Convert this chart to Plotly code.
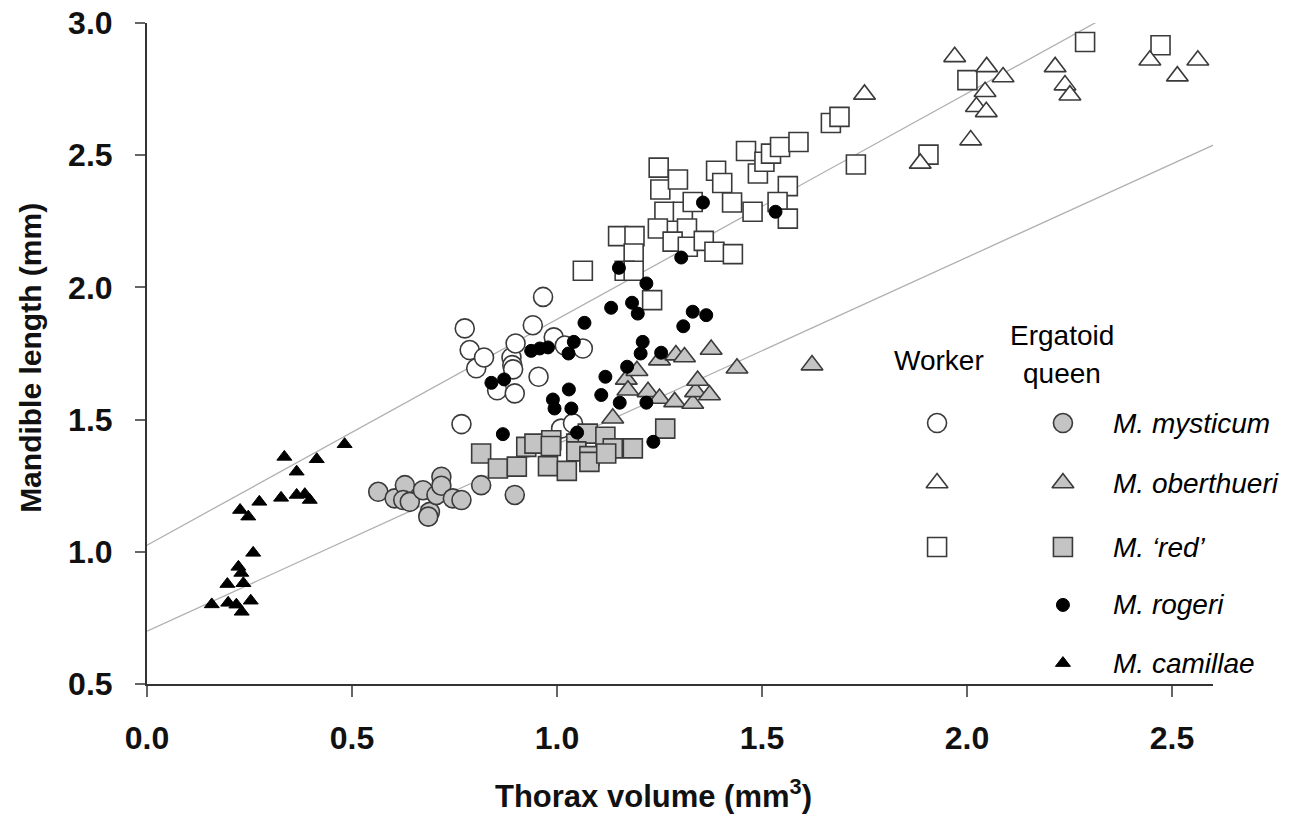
import plotly.graph_objects as go

# ---------------- data ----------------
mysticum_worker_x = [0.767, 0.775, 0.787, 0.803, 0.822, 0.854, 0.889, 0.891, 0.893, 0.897,
                     0.899, 0.941, 0.955, 0.966, 0.992, 1.019, 1.063, 1.010, 1.039]
mysticum_worker_y = [1.483, 1.845, 1.763, 1.694, 1.735, 1.611, 1.735, 1.706, 1.690, 1.599,
                     1.788, 1.857, 1.662, 1.964, 1.811, 1.780, 1.769, 1.466, 1.486]

mysticum_queen_x = [0.564, 0.604, 0.629, 0.625, 0.641, 0.673, 0.690, 0.686, 0.706, 0.718,
                    0.718, 0.746, 0.767, 0.815, 0.897]
mysticum_queen_y = [1.227, 1.202, 1.252, 1.196, 1.189, 1.233, 1.151, 1.133, 1.215, 1.284,
                    1.250, 1.202, 1.196, 1.252, 1.215]

oberthueri_worker_x = [1.750, 1.886, 1.970, 2.048, 2.088, 2.044, 2.023, 2.047, 2.009, 2.215,
                       2.239, 2.251, 2.446, 2.513, 2.563]
oberthueri_worker_y = [2.730, 2.469, 2.872, 2.834, 2.796, 2.740, 2.683, 2.664, 2.557, 2.834,
                       2.765, 2.727, 2.859, 2.799, 2.859]

oberthueri_queen_x = [1.136, 1.169, 1.173, 1.195, 1.222, 1.250, 1.250, 1.287, 1.290, 1.311,
                      1.331, 1.338, 1.343, 1.372, 1.376, 1.439, 1.622]
oberthueri_queen_y = [1.505, 1.652, 1.611, 1.685, 1.605, 1.725, 1.580, 1.567, 1.744, 1.737,
                      1.561, 1.605, 1.648, 1.593, 1.765, 1.694, 1.706]

red_worker_x = [1.063, 1.149, 1.189, 1.187, 1.165, 1.187, 1.232, 1.248, 1.252, 1.295,
                1.262, 1.307, 1.246, 1.317, 1.282, 1.319, 1.358, 1.384, 1.429, 1.331,
                1.388, 1.403, 1.427, 1.477, 1.461, 1.490, 1.506, 1.522, 1.544, 1.589,
                1.563, 1.538, 1.563, 1.668, 1.689, 1.729, 1.906, 2.001, 2.288, 2.472]
red_worker_y = [2.063, 2.194, 2.194, 2.128, 2.063, 2.063, 1.952, 2.453, 2.370, 2.408,
                2.286, 2.286, 2.223, 2.223, 2.173, 2.154, 2.176, 2.135, 2.126, 2.323,
                2.441, 2.395, 2.321, 2.286, 2.516, 2.431, 2.475, 2.506, 2.531, 2.550,
                2.383, 2.323, 2.260, 2.622, 2.645, 2.465, 2.502, 2.784, 2.928, 2.916]

red_queen_x = [0.815, 0.856, 0.902, 0.925, 0.945, 0.986, 0.985, 0.978, 1.024, 1.047,
               1.075, 1.047, 1.079, 1.079, 1.118, 1.136, 1.120, 1.185, 1.264]
red_queen_y = [1.372, 1.315, 1.322, 1.397, 1.409, 1.422, 1.400, 1.324, 1.306, 1.409,
               1.447, 1.380, 1.362, 1.340, 1.435, 1.391, 1.372, 1.391, 1.466]

rogeri_x = [0.840, 0.868, 0.871, 0.937, 0.958, 0.978, 0.990, 0.994, 1.028, 1.029,
            1.035, 1.041, 1.049, 1.067, 1.108, 1.118, 1.132, 1.151, 1.153, 1.171,
            1.183, 1.197, 1.204, 1.209, 1.218, 1.218, 1.235, 1.254, 1.303, 1.308,
            1.331, 1.364, 1.356, 1.533]
rogeri_y = [1.639, 1.445, 1.652, 1.760, 1.769, 1.773, 1.576, 1.542, 1.750, 1.614,
            1.542, 1.794, 1.451, 1.866, 1.593, 1.662, 1.923, 2.074, 1.564, 1.700,
            1.942, 1.901, 1.750, 1.794, 2.015, 1.564, 1.416, 1.753, 2.113, 1.853,
            1.908, 1.895, 2.321, 2.286]

camillae_x = [0.482, 0.335, 0.414, 0.365, 0.274, 0.327, 0.365, 0.385, 0.397, 0.227,
              0.247, 0.259, 0.223, 0.230, 0.196, 0.235, 0.158, 0.198, 0.218, 0.253, 0.231]
camillae_y = [1.407, 1.359, 1.350, 1.303, 1.189, 1.204, 1.215, 1.218, 1.196, 1.158,
              1.133, 0.996, 0.943, 0.920, 0.878, 0.881, 0.801, 0.807, 0.800, 0.815, 0.773]

# regression lines (end points)
upper_line_x = [0.0, 2.354]
upper_line_y = [1.025, 3.036]
lower_line_x = [0.0, 2.627]
lower_line_y = [0.700, 2.557]

species_labels = ["M. mysticum", "M. oberthueri", "M. \u2018red\u2019", "M. rogeri", "M. camillae"]
x_ticks = [0.0, 0.5, 1.0, 1.5, 2.0, 2.5]
y_ticks = [0.5, 1.0, 1.5, 2.0, 2.5, 3.0]
x_title = "Thorax volume (mm<sup>3</sup>)"
y_title = "Mandible length (mm)"

# ---------------- styling ----------------
GRAY = "#c4c4c4"
EDGE = "#3a3a3a"
FONT = "Liberation Sans, Arial, sans-serif"

fig = go.Figure()

fig.add_trace(go.Scatter(x=upper_line_x, y=upper_line_y, mode="lines",
                         line=dict(color="#b0b0b0", width=1.3), hoverinfo="skip"))
fig.add_trace(go.Scatter(x=lower_line_x, y=lower_line_y, mode="lines",
                         line=dict(color="#b0b0b0", width=1.3), hoverinfo="skip"))

def pts(x, y, symbol, size, fill, edge=EDGE, lw=1.6):
    fig.add_trace(go.Scatter(x=x, y=y, mode="markers",
                             marker=dict(symbol=symbol, size=size, color=fill,
                                         line=dict(color=edge, width=lw))))

pts(camillae_x, camillae_y, "triangle-up", 13, "black", "black", 1)
pts(mysticum_queen_x, mysticum_queen_y, "circle", 19, GRAY)
pts(mysticum_worker_x, mysticum_worker_y, "circle", 19, "white")
pts(red_queen_x, red_queen_y, "square", 19, GRAY)
pts(oberthueri_queen_x, oberthueri_queen_y, "triangle-up", 19, GRAY)
pts(red_worker_x, red_worker_y, "square", 19, "white")
pts(oberthueri_worker_x, oberthueri_worker_y, "triangle-up", 19, "white")
pts(rogeri_x, rogeri_y, "circle", 13, "black", "black", 1)

# ---------------- custom legend ----------------
leg_worker_col = 1.927
leg_queen_col = 2.234
leg_text_col = 2.351
leg_rows = [1.487, 1.260, 1.018, 0.799, 0.579]

worker_syms = ["circle", "triangle-up", "square"]
queen_syms = [("circle", 19, GRAY, EDGE), ("triangle-up", 19, GRAY, EDGE), ("square", 19, GRAY, EDGE),
              ("circle", 13, "black", "black"), ("triangle-up", 13, "black", "black")]
for i, s in enumerate(worker_syms):
    fig.add_trace(go.Scatter(x=[leg_worker_col], y=[leg_rows[i]], mode="markers",
                             marker=dict(symbol=s, size=19, color="white",
                                         line=dict(color=EDGE, width=1.6))))
for i, (s, sz, c, e) in enumerate(queen_syms):
    fig.add_trace(go.Scatter(x=[leg_queen_col], y=[leg_rows[i]], mode="markers",
                             marker=dict(symbol=s, size=sz, color=c,
                                         line=dict(color=e, width=1.6 if c != "black" else 1))))

annotations = []
for i, lab in enumerate(species_labels):
    annotations.append(dict(x=leg_text_col, y=leg_rows[i], xref="x", yref="y",
                            text="<i>" + lab + "</i>",
                            showarrow=False, xanchor="left", yanchor="middle",
                            font=dict(family=FONT, size=28, color="black")))

annotations.append(dict(x=1.931, y=1.725, xref="x", yref="y", text="Worker", showarrow=False,
                        xanchor="center", yanchor="middle", font=dict(family=FONT, size=28, color="black")))
annotations.append(dict(x=2.231, y=1.819, xref="x", yref="y", text="Ergatoid", showarrow=False,
                        xanchor="center", yanchor="middle",
                        font=dict(family=FONT, size=28, color="black")))
annotations.append(dict(x=2.231, y=1.676, xref="x", yref="y", text="queen", showarrow=False,
                        xanchor="center", yanchor="middle",
                        font=dict(family=FONT, size=28, color="black")))

# axis titles as annotations (exact placement)
annotations.append(dict(x=0.4747, y=-0.166, xref="paper", yref="paper",
                        text="<b>" + x_title + "</b>", showarrow=False,
                        xanchor="center", yanchor="middle",
                        font=dict(family=FONT, size=31, color="#111")))
annotations.append(dict(x=-0.110, y=0.493, xref="paper", yref="paper",
                        text="<b>" + y_title + "</b>", showarrow=False, textangle=-90,
                        xanchor="center", yanchor="middle",
                        font=dict(family=FONT, size=30, color="#111")))

# the page body adds an 8px offset; margins compensate so the plot lands where the reference has it
fig.update_layout(
    width=1306, height=815,
    margin=dict(l=139, r=101, t=15, b=139),
    paper_bgcolor="white", plot_bgcolor="white",
    showlegend=False,
    font=dict(family=FONT, color="black"),
    annotations=annotations,
)
fig.update_traces(cliponaxis=False)

fig.update_xaxes(range=[0, 2.6], tickvals=x_ticks, ticktext=[f"<b>{v:.1f}</b>" for v in x_ticks],
                 automargin=False, ticklabeloverflow="allow",
                 showgrid=False, zeroline=False, showline=True, linecolor="#333", linewidth=2,
                 ticks="outside", ticklen=11, tickwidth=1.5, tickcolor="#666",
                 tickfont=dict(family=FONT, size=32, color="#111"), ticklabelstandoff=14)
fig.update_yaxes(range=[0.5, 3.0], tickvals=y_ticks, ticktext=[f"<b>{v:.1f}</b>" for v in y_ticks],
                 automargin=False, ticklabeloverflow="allow",
                 showgrid=False, zeroline=False, showline=True, linecolor="#333", linewidth=2,
                 ticks="outside", ticklen=10, tickwidth=1.5, tickcolor="#666",
                 tickfont=dict(family=FONT, size=32, color="#111"), ticklabelstandoff=16)

fig.write_html("out.html")
